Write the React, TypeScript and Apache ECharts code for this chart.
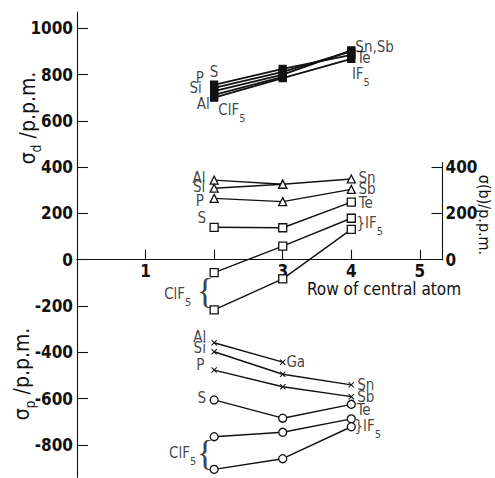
import React, { useEffect, useRef } from 'react';
import * as echarts from 'echarts';

// Row of central atom (x positions of the points)
const rows = [2, 3, 4];

// σd (filled squares)
const dAl = [712, 790];
const dSi = [728, 800, 905];
const dP = [742, 812, 900];
const dS = [756, 825, 885];
const dClF5 = [700, 785, 868];

// σ(b) (triangles / squares)
const bAl = [344, 326];
const bSi = [309, 326, 349];
const bP = [265, 251, 304];
const bS = [140, 138, 249];
const bClF5a = [-56, 59, 179];
const bClF5b = [-217, -83, 131];

// σp (crosses / circles)
const pAl = [-359, -443];
const pSi = [-398, -495, -541];
const pP = [-477, -549, -592];
const pS = [-606, -685, -625];
const pClF5a = [-765, -746, -688];
const pClF5b = [-906, -860, -722];

// axis ticks / labels
const leftTicks = [-800, -600, -400, -200, 0, 200, 400, 600, 800, 1000];
const rightTicks = [0, 200, 400];
const xTicks = [1, 2, 3, 4, 5];
const xLabels = [1, 3, 4, 5];

// point annotations: text, x (row), y (ppm)
const notes: [string, number, number][] = [
  ['S', 2.0, 811], ['P', 1.79, 785], ['Si', 1.73, 742], ['Al', 1.84, 673], ['ClF{s|5}', 2.26, 647],
  ['Sn,Sb', 4.34, 919], ['Te', 4.18, 872], ['IF{s|5}', 4.14, 803],
  ['Al', 1.78, 353], ['Si', 1.78, 314], ['P', 1.79, 254], ['S', 1.82, 180],
  ['Sn', 4.23, 352], ['Sb', 4.23, 305], ['Te', 4.21, 245], ['}IF{s|5}', 4.27, 158],
  ['ClF{s|5}', 1.47, -148],
  ['Al', 1.79, -334], ['Si', 1.79, -381], ['P', 1.8, -455], ['S', 1.82, -598], ['Ga', 3.19, -442],
  ['ClF{s|5}', 1.54, -835],
  ['Sn', 4.21, -541], ['Sb', 4.21, -593], ['Te', 4.18, -650], ['}IF{s|5}', 4.24, -719],
];
const braces: [number, number][] = [[1.87, -135], [1.87, -837]];

const FONT = '"DejaVu Sans Condensed", "Liberation Sans Narrow", "DejaVu Sans", sans-serif';
const INK = '#111';
const CROSS = 'path://M0,1.2L1.2,0L5,3.8L8.8,0L10,1.2L6.2,5L10,8.8L8.8,10L5,6.2L1.2,10L0,8.8L3.8,5Z';

export default function App() {
  const ref = useRef<HTMLDivElement>(null);
  useEffect(() => {
    if (!ref.current) return;
    const chart = echarts.init(ref.current, null, { renderer: 'svg' });

    const mk = (vals: number[], symbol: string, size: number, fill: string, width = 1.4, bw = 1.3) => ({
      type: 'line',
      xAxisIndex: 0,
      yAxisIndex: 0,
      data: vals.map((v, i) => [rows[i], v]),
      symbol,
      symbolSize: size,
      showSymbol: true,
      lineStyle: { color: INK, width },
      itemStyle: { color: fill, borderColor: INK, borderWidth: bw },
      z: 3,
    });

    const labelBase = {
      show: true,
      position: 'inside',
      color: INK,
      textBorderWidth: 0,
      textBorderColor: 'transparent',
      align: 'center',
      verticalAlign: 'middle',
    };

    const series: any[] = [
      mk(dAl, 'rect', 7, INK, 1.8),
      mk(dSi, 'rect', 7, INK, 1.8),
      mk(dP, 'rect', 7, INK, 1.8),
      mk(dS, 'rect', 7, INK, 1.8),
      mk(dClF5, 'rect', 7, INK, 1.8),
      mk(bAl, 'triangle', 8, '#fff'),
      mk(bSi, 'triangle', 8, '#fff'),
      mk(bP, 'triangle', 8, '#fff'),
      mk(bS, 'rect', 8, '#fff'),
      mk(bClF5a, 'rect', 8, '#fff'),
      mk(bClF5b, 'rect', 8, '#fff'),
      mk(pAl, CROSS, 6, INK, 1.4, 0),
      mk(pSi, CROSS, 6, INK, 1.4, 0),
      mk(pP, CROSS, 6, INK, 1.4, 0),
      mk(pS, 'circle', 8, '#fff'),
      mk(pClF5a, 'circle', 8, '#fff'),
      mk(pClF5b, 'circle', 8, '#fff'),
      {
        type: 'scatter',
        xAxisIndex: 0,
        yAxisIndex: 0,
        symbolSize: 0,
        silent: true,
        z: 5,
        itemStyle: { color: INK },
        data: notes.map(([t, x, y]) => ({
          value: [x, y],
          label: {
            ...labelBase,
            formatter: () => t,
            fontSize: 15,
            fontFamily: FONT,
            lineHeight: 16,
            rich: {
              s: {
                fontSize: 11, fontFamily: FONT, color: INK, textBorderWidth: 0,
                padding: [11, 0, 0, 0], verticalAlign: 'top', lineHeight: 11,
              },
            },
          },
        })),
      },
      {
        type: 'scatter',
        xAxisIndex: 0,
        yAxisIndex: 0,
        symbolSize: 0,
        silent: true,
        z: 5,
        itemStyle: { color: INK },
        data: braces.map(([x, y]) => ({
          value: [x, y],
          label: {
            ...labelBase,
            formatter: () => '{',
            fontSize: 36,
            fontFamily: '"Liberation Serif", serif',
          },
        })),
      },
    ];

    const axisFont = {
      fontSize: 17, fontWeight: 'bold', fontFamily: FONT, color: INK,
      formatter: (v: number) => String(v),
    };
    const lineStyle = { color: INK, width: 1.1 };

    chart.setOption({
      animation: false,
      backgroundColor: '#fff',
      grid: [
        { left: 77, width: 365.5, top: 12.1, height: 465.1 },
        { left: 77, width: 365.5, top: 162.5, height: 97.2 },
      ],
      xAxis: [
        { gridIndex: 0, type: 'value', min: 0, max: 5.33, show: false },
        {
          gridIndex: 1,
          type: 'value',
          position: 'bottom',
          min: 0,
          max: 5.33,
          axisLine: { show: true, onZero: false, lineStyle },
          axisTick: { show: true, inside: true, length: 10, customValues: xTicks, lineStyle },
          axisLabel: { ...axisFont, customValues: xLabels, margin: 3 },
          splitLine: { show: false },
        },
      ],
      yAxis: [
        {
          gridIndex: 0,
          type: 'value',
          min: -940,
          max: 1070,
          axisLine: { show: true, onZero: false, lineStyle },
          axisTick: { show: true, inside: true, length: 11, customValues: leftTicks, lineStyle },
          axisLabel: { ...axisFont, customValues: leftTicks, margin: 4 },
          splitLine: { show: false },
        },
        {
          gridIndex: 1,
          type: 'value',
          position: 'right',
          min: 0,
          max: 420,
          axisLine: { show: true, onZero: false, lineStyle },
          axisTick: { show: true, inside: true, length: 11, customValues: [200, 400], lineStyle },
          axisLabel: { ...axisFont, customValues: rightTicks, margin: 3 },
          splitLine: { show: false },
        },
      ],
      graphic: [
        {
          type: 'text',
          x: 28,
          y: 118,
          rotation: Math.PI / 2,
          style: {
            text: '{m|σ}{d|d}{m| /p.p.m.}',
            align: 'center',
            verticalAlign: 'middle',
            fill: INK,
            rich: {
              m: { fontSize: 21, fontFamily: FONT, fill: INK, lineHeight: 22, verticalAlign: 'top' },
              d: { fontSize: 14, fontFamily: FONT, fill: INK, lineHeight: 14, padding: [12, 0, 0, 0], verticalAlign: 'top' },
            },
          },
        },
        {
          type: 'text',
          x: 22,
          y: 374,
          rotation: Math.PI / 2,
          style: {
            text: '{m|σ}{d|p}{m| /p.p.m.}',
            align: 'center',
            verticalAlign: 'middle',
            fill: INK,
            rich: {
              m: { fontSize: 21, fontFamily: FONT, fill: INK, lineHeight: 22, verticalAlign: 'top' },
              d: { fontSize: 14, fontFamily: FONT, fill: INK, lineHeight: 14, padding: [12, 0, 0, 0], verticalAlign: 'top' },
            },
          },
        },
        {
          type: 'text',
          x: 484,
          y: 215,
          rotation: -Math.PI / 2,
          style: {
            text: 'σ(b)/p.p.m.',
            align: 'center',
            verticalAlign: 'middle',
            fill: INK,
            font: `16px ${FONT}`,
          },
        },
        {
          type: 'text',
          x: 384,
          y: 289,
          style: {
            text: 'Row of central atom',
            align: 'center',
            verticalAlign: 'middle',
            fill: INK,
            font: `17px ${FONT}`,
          },
        },
      ],
      series,
    });
    return () => chart.dispose();
  }, []);
  return <div ref={ref} style={{ position: 'absolute', left: 0, top: 0, width: 495, height: 478 }} />;
}
